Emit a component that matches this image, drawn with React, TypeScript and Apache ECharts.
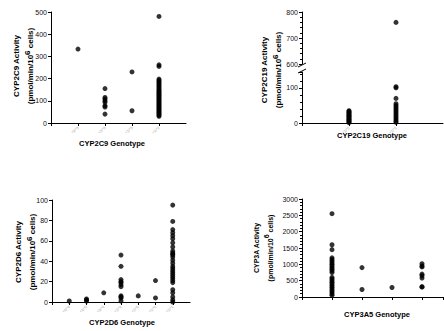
import React, { useEffect, useRef } from 'react';
import * as echarts from 'echarts';

const cyp2c9Genotypes = ['*3/*3', '*2/*3', '*1/*3', '*1/*2'];
const cyp2c9Values: number[][] = [
  [333],
  [155, 115, 108, 100, 93, 78, 72, 40],
  [230, 55],
  [480, 262, 255, 198, 192, 186, 180, 174, 168, 162, 156, 150, 145, 140, 135, 130, 125, 120, 115, 110, 105, 100, 95, 90, 85, 80, 75, 70, 65, 60, 55, 50, 45, 40, 35, 30],
];

const cyp2c19Genotypes = ['*1/*2', '*1/*1'];
const cyp2c19Values: number[][] = [
  [35, 33, 30, 28, 25, 22, 20, 18, 15, 12, 10, 8, 5, 3, 1],
  [760, 103, 100, 70, 55, 50, 45, 40, 35, 30, 25, 20, 15, 10, 5, 2],
];

const cyp2d6Genotypes = ['*4/*4', '*4/*5', '*3/*4', '*1/*4', '*2/*5', '*1/*5', '*1/*1'];
const cyp2d6Values: number[][] = [
  [1],
  [3, 2, 1],
  [9],
  [46, 35, 22, 20, 19, 17, 15, 6, 5, 4, 1],
  [6],
  [21, 4],
  [95, 79, 71, 68, 65, 62, 58, 54, 50, 48, 47, 46, 44, 41, 38, 35, 33, 31, 29, 27, 25, 23, 21, 19, 12, 9, 5, 2, 0],
];

const cyp3a5Values: number[][] = [
  [2550, 1600, 1450, 1200, 1150, 1100, 1050, 1000, 950, 900, 850, 800, 750, 600, 550, 500, 450, 400, 350, 300, 250, 200, 150, 100, 50],
  [900, 230],
  [290],
  [1020, 950, 920, 700, 650, 580, 320, 300],
];

const toPoints = (vals: number[][], filter: (v: number) => boolean = () => true) => {
  const pts: number[][] = [];
  vals.forEach((col, i) => col.forEach((v) => { if (filter(v)) pts.push([i + 1, v]); }));
  return pts;
};

const FONT = 'Liberation Sans, Arial, sans-serif';

const axisLineStyle = { lineStyle: { color: '#000', width: 1 } };

function xAxisCfg(gridIndex: number, max: number, labels: string[] | null, show = true) {
  return {
    type: 'value',
    gridIndex,
    show,
    min: 0,
    max,
    interval: 1,
    axisLine: axisLineStyle,
    axisTick: { show: true, length: 3, lineStyle: { color: '#000' } },
    splitLine: { show: false },
    axisLabel: {
      show: !!labels,
      rotate: 45,
      fontSize: 4,
      color: '#aaa',
      fontFamily: FONT,
      margin: 4,
      showMaxLabel: false,
      formatter: (v: number) => (labels && Number.isInteger(v) && v >= 1 && v <= labels.length ? labels[v - 1] : ''),
    },
  };
}

function yAxisCfg(gridIndex: number, min: number, max: number, interval: number, minor: boolean, showMax = true) {
  return {
    type: 'value',
    gridIndex,
    min,
    max,
    interval,
    axisLine: { show: true, ...axisLineStyle },
    axisTick: { show: true, length: 3, lineStyle: { color: '#000' } },
    minorTick: { show: minor, splitNumber: 5, length: 2, lineStyle: { color: '#000' } },
    splitLine: { show: false },
    axisLabel: {
      fontSize: 7,
      color: '#111',
      fontFamily: FONT,
      margin: 4,
      showMaxLabel: showMax,
      formatter: (v: number) => (v % interval === 0 ? String(v) : ''),
    },
  };
}

function yTitle(x: number, y: number, l1: string, fontSize = 8) {
  return {
    type: 'text',
    x,
    y,
    rotation: Math.PI / 2,
    style: {
      text: l1 + '\n(pmol/min/10{sup|6} cells)',
      fontSize,
      fontWeight: 'bold',
      fontFamily: FONT,
      fill: '#000',
      align: 'center',
      verticalAlign: 'middle',
      lineHeight: 14,
      rich: {
        sup: { fontSize, fontWeight: 'bold', fontFamily: FONT, verticalAlign: 'top', lineHeight: 14, fill: '#000' },
      },
    },
  };
}

function xTitle(x: number, y: number, text: string) {
  return {
    type: 'text',
    x,
    y,
    style: { text, fontSize: 7.5, fontWeight: 'bold', fontFamily: FONT, fill: '#000', align: 'center', verticalAlign: 'middle' },
  };
}

const scatter = (xAxisIndex: number, data: number[][]) => ({
  type: 'scatter',
  xAxisIndex,
  yAxisIndex: xAxisIndex,
  data,
  symbol: 'circle',
  symbolSize: 5,
  itemStyle: { color: '#000' },
});

export default function App() {
  const ref = useRef<HTMLDivElement>(null);
  useEffect(() => {
    if (!ref.current) return;
    const chart = echarts.init(ref.current, null, { renderer: 'svg' });
    chart.setOption({
      animation: false,
      backgroundColor: '#fff',
      textStyle: { color: '#000', fontFamily: FONT },
      grid: [
        { left: 51, top: 12, width: 135, height: 111 },
        { left: 302, top: 12, width: 141, height: 52 },
        { left: 302, top: 72, width: 141, height: 51 },
        { left: 52, top: 200, width: 138, height: 102 },
        { left: 302, top: 199, width: 141, height: 98 },
      ],
      xAxis: [
        xAxisCfg(0, 5, cyp2c9Genotypes),
        xAxisCfg(1, 3, null, false),
        xAxisCfg(2, 3, cyp2c19Genotypes),
        xAxisCfg(3, 8, cyp2d6Genotypes),
        xAxisCfg(4, 4.7, null),
      ],
      yAxis: [
        yAxisCfg(0, 0, 500, 100, false),
        yAxisCfg(1, 600, 800, 100, true),
        yAxisCfg(2, 0, 145, 100, true, false),
        yAxisCfg(3, 0, 100, 20, false),
        yAxisCfg(4, 0, 3000, 500, true),
      ],
      series: [
        scatter(0, toPoints(cyp2c9Values)),
        scatter(1, toPoints(cyp2c19Values, (v) => v >= 600)),
        scatter(2, toPoints(cyp2c19Values, (v) => v < 600)),
        scatter(3, toPoints(cyp2d6Values)),
        scatter(4, toPoints(cyp3a5Values)),
      ],
      graphic: [
        yTitle(23, 66, 'CYP2C9 Activity'),
        yTitle(271, 70, 'CYP2C19 Activity'),
        yTitle(25, 252, 'CYP2D6 Activity'),
        yTitle(263, 248, 'CYP3A Activity', 7),
        xTitle(112, 143, 'CYP2C9 Genotype'),
        xTitle(372, 135, 'CYP2C19 Genotype'),
        xTitle(122, 322, 'CYP2D6 Genotype'),
        xTitle(377, 314, 'CYP3A5 Genotype'),
        { type: 'rect', shape: { x: 299, y: 65, width: 7, height: 6 }, style: { fill: '#fff' }, z: 100 },
        { type: 'line', shape: { x1: 298, y1: 67, x2: 306, y2: 63 }, style: { stroke: '#000', lineWidth: 1 }, z: 101 },
        { type: 'line', shape: { x1: 298, y1: 73, x2: 306, y2: 69 }, style: { stroke: '#000', lineWidth: 1 }, z: 101 },
      ],
    });
    return () => chart.dispose();
  }, []);
  return <div ref={ref} style={{ position: 'fixed', left: 0, top: 0, width: 444, height: 331 }} />;
}
